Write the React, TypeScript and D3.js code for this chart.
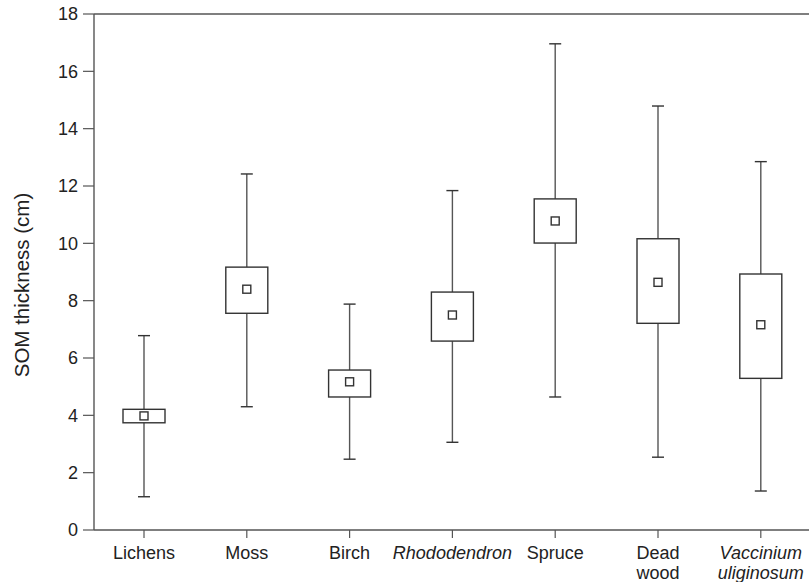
import React from "react";
import * as d3 from "d3";

const categories = ["Lichens", "Moss", "Birch", "Rhododendron", "Spruce", "Dead wood", "Vaccinium uliginosum"];
const labelLines = [["Lichens"], ["Moss"], ["Birch"], ["Rhododendron"], ["Spruce"], ["Dead", "wood"], ["Vaccinium", "uliginosum"]];
const italicCats = ["Rhododendron", "Vaccinium uliginosum"];
const whiskerLow = [1.16, 4.3, 2.47, 3.06, 4.64, 2.54, 1.36];
const q1 = [3.74, 7.56, 4.64, 6.59, 10.01, 7.21, 5.29];
const mean = [3.98, 8.4, 5.17, 7.5, 10.78, 8.64, 7.16];
const q3 = [4.21, 9.17, 5.58, 8.3, 11.55, 10.16, 8.93];
const whiskerHigh = [6.78, 12.42, 7.88, 11.84, 16.96, 14.79, 12.85];
const yTicks = [0, 2, 4, 6, 8, 10, 12, 14, 16, 18];

export default function App() {
  const W = 809, H = 582;
  const left = 94, top = 14, bottom = 530;
  const step = 102.8;
  const x = d3.scalePoint<string>().domain(categories).range([left + step / 2 - 1.4, left + step * 6.5 - 1.4]);
  const y = d3.scaleLinear().domain([0, 18]).range([bottom, top]);
  const boxW = 42, capW = 12, meanS = 8;
  const font = "'Liberation Sans', Arial, Helvetica, sans-serif";
  const axisCol = "#555";
  const boxCol = "#333";
  return (
    <svg width={W} height={H} style={{ position: "absolute", left: 0, top: 0, background: "#fff" }} fontFamily={font}>
      {/* axes */}
      <line x1={left} x2={left} y1={top} y2={bottom} stroke={axisCol} strokeWidth={1.4} />
      <line x1={left} x2={W} y1={bottom} y2={bottom} stroke={axisCol} strokeWidth={1.4} />
      <line x1={left} x2={W} y1={top} y2={top} stroke={axisCol} strokeWidth={1.4} />
      {yTicks.map((t) => (
        <g key={t}>
          <line x1={left - 11} x2={left} y1={y(t)} y2={y(t)} stroke={axisCol} strokeWidth={1.2} />
          <text x={left - 16} y={y(t)} dy="0.36em" textAnchor="end" fontSize={18} fill="#222">{t}</text>
        </g>
      ))}
      {categories.map((c, i) => (
        <g key={c}>
          <line x1={x(c)} x2={x(c)} y1={bottom} y2={bottom + 8} stroke={axisCol} strokeWidth={1.2} />
          {labelLines[i].map((ln, j) => (
            <text key={j} x={x(c)} y={bottom + 29 + j * 20} textAnchor="middle" fontSize={18} fill="#222"
              fontStyle={italicCats.includes(c) ? "italic" : "normal"}>{ln}</text>
          ))}
        </g>
      ))}
      <text transform={`translate(29,285) rotate(-90)`} textAnchor="middle" fontSize={20.5} fill="#222">SOM thickness (cm)</text>
      {/* boxes */}
      {categories.map((c, i) => {
        const cx = x(c)!;
        return (
          <g key={c}>
            <line x1={cx} x2={cx} y1={y(whiskerHigh[i])} y2={y(q3[i])} stroke={axisCol} strokeWidth={1.4} />
            <line x1={cx} x2={cx} y1={y(q1[i])} y2={y(whiskerLow[i])} stroke={axisCol} strokeWidth={1.4} />
            <line x1={cx - capW / 2} x2={cx + capW / 2} y1={y(whiskerHigh[i])} y2={y(whiskerHigh[i])} stroke={boxCol} strokeWidth={1.4} />
            <line x1={cx - capW / 2} x2={cx + capW / 2} y1={y(whiskerLow[i])} y2={y(whiskerLow[i])} stroke={boxCol} strokeWidth={1.4} />
            <rect x={cx - boxW / 2} y={y(q3[i])} width={boxW} height={y(q1[i]) - y(q3[i])} fill="#fff" stroke={boxCol} strokeWidth={1.4} />
            <rect x={cx - meanS / 2} y={y(mean[i]) - meanS / 2} width={meanS} height={meanS} fill="#fff" stroke={boxCol} strokeWidth={1.4} />
          </g>
        );
      })}
    </svg>
  );
}
